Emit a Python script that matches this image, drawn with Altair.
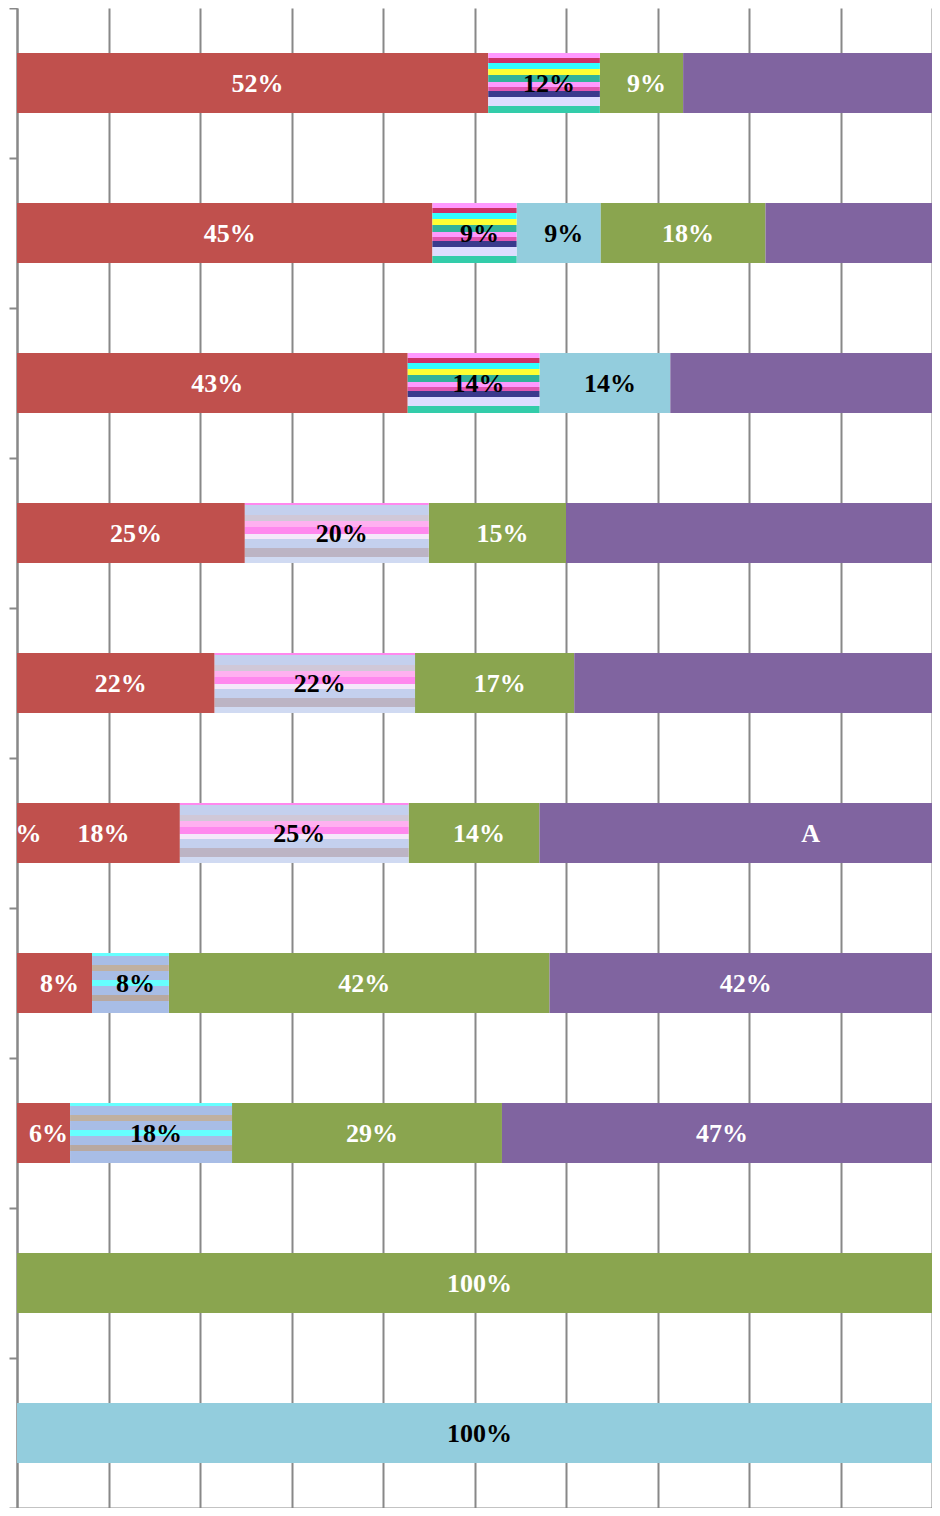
import altair as alt
import pandas as pd

# ---- data (percent of row) ----
rows = ["1", "2", "3", "4", "5", "6", "7", "8", "9", "10"]
series = ["s0", "red", "pattern", "light", "green", "purple"]

s0_vals      = [0, 0, 0, 0, 0, 0, 0, 0, 0, 0]
red_vals     = [51.5, 45.4, 42.7, 24.9, 21.6, 17.8, 8.2, 5.8, 0, 0]
pattern_vals = [12.2, 9.2, 14.4, 20.1, 21.9, 25.0, 8.4, 17.7, 0, 0]
light_vals   = [0, 9.2, 14.3, 0, 0, 0, 0, 0, 0, 100]
green_vals   = [9.1, 18.0, 0, 15.0, 17.4, 14.3, 41.6, 29.5, 100, 0]
purple_vals  = [27.2, 18.2, 28.6, 40.0, 39.1, 42.9, 41.8, 47.0, 0, 0]

s0_labels      = ["", "", "", "", "", "0%", "", "", "", ""]
red_labels     = ["52%", "45%", "43%", "25%", "22%", "18%", "8%", "6%", "", ""]
pattern_labels = ["12%", "9%", "14%", "20%", "22%", "25%", "8%", "18%", "", ""]
light_labels   = ["", "9%", "14%", "", "", "", "", "", "", "100%"]
green_labels   = ["9%", "18%", "", "15%", "17%", "14%", "42%", "29%", "100%", ""]
purple_labels  = ["", "", "", "", "", "A", "42%", "47%", "", ""]

# label placed away from its segment centre (row, series) -> percent position
label_override = {("6", "purple"): 86.2}

pattern_group = ["g1", "g1", "g1", "g2", "g2", "g2", "g3", "g3", "", ""]

colors = {"s0": "#C0504D", "red": "#C0504D", "pattern": "#C8C8EE",
          "light": "#93CDDD", "green": "#8AA54F", "purple": "#8064A0"}
text_colors = {"s0": "white", "red": "white", "pattern": "black",
               "light": "black", "green": "white", "purple": "white"}

vals = {"s0": s0_vals, "red": red_vals, "pattern": pattern_vals,
        "light": light_vals, "green": green_vals, "purple": purple_vals}
labs = {"s0": s0_labels, "red": red_labels, "pattern": pattern_labels,
        "light": light_labels, "green": green_labels, "purple": purple_labels}

recs = []
for i, r in enumerate(rows):
    cum = 0.0
    for s in series:
        v = vals[s][i]
        start, end = cum, cum + v
        cum = end
        lx = label_override.get((r, s), (start + end) / 2)
        recs.append(dict(row=r, series=s, start=start, end=end, lx=lx,
                         label=labs[s][i], tcolor=text_colors[s],
                         pgroup=pattern_group[i]))
df = pd.DataFrame(recs)

# ---- stripe fills imitating the textured series ----
def grad(stops):
    st = []
    for a, b, c in stops:
        st.append(alt.GradientStop(offset=a, color=c))
        st.append(alt.GradientStop(offset=b, color=c))
    return alt.Gradient(gradient="linear", x1=0, y1=0, x2=0, y2=1, stops=st)

g1 = grad([(0, 0.08, "#FF99FF"), (0.08, 0.17, "#CC3366"), (0.17, 0.27, "#33FFFF"),
           (0.27, 0.37, "#FFFF33"), (0.37, 0.48, "#33B39A"), (0.48, 0.56, "#FF99FF"),
           (0.56, 0.63, "#E055B0"), (0.63, 0.73, "#3A3A8C"), (0.73, 0.88, "#DDDDFF"),
           (0.88, 1.0, "#33CCAA")])
g2 = grad([(0, 0.03, "#FF88EE"), (0.03, 0.2, "#C4D0EE"), (0.2, 0.3, "#D0C8D8"),
           (0.3, 0.4, "#FFB0F0"), (0.4, 0.52, "#FF88EE"), (0.52, 0.6, "#F4E8FA"),
           (0.6, 0.75, "#C4D0EE"), (0.75, 0.9, "#BCB4C4"), (0.9, 1.0, "#D0DAF2")])
g3 = grad([(0, 0.05, "#66FFFF"), (0.05, 0.2, "#A8BDE6"), (0.2, 0.3, "#C0B0A0"),
           (0.3, 0.45, "#A8BDE6"), (0.45, 0.55, "#66FFFF"), (0.55, 0.7, "#A8BDE6"),
           (0.7, 0.8, "#B8A8A0"), (0.8, 1.0, "#A8BDE6")])
grads = {"g1": g1, "g2": g2, "g3": g3}

GRID = "#888888"
X = alt.X("start:Q", scale=alt.Scale(domain=[0, 100], nice=False, zero=True),
          axis=alt.Axis(values=list(range(0, 101, 10)), labels=False, title=None,
                        grid=True, gridColor=GRID, gridWidth=2,
                        domainColor=GRID, domainWidth=2,
                        tickColor=GRID, tickWidth=2, tickSize=3))
Y = alt.Y("row:N", sort=rows,
          scale=alt.Scale(paddingInner=0, paddingOuter=0),
          axis=alt.Axis(labels=False, title=None, grid=False, ticks=True,
                        tickBand="extent", tickSize=8, tickColor=GRID,
                        tickWidth=2, domainColor=GRID, domainWidth=2))

BAR_H = alt.RelativeBandSize(0.4)
base = alt.Chart(df)

solid = base.transform_filter(
    (alt.datum.series != "pattern") & (alt.datum.end > alt.datum.start)
).mark_bar(height=BAR_H).encode(
    x=X, x2="end:Q", y=Y,
    color=alt.Color("series:N",
                    scale=alt.Scale(domain=series, range=[colors[s] for s in series]),
                    legend=None),
)

layers = [solid]
for g in ["g1", "g2", "g3"]:
    layers.append(
        base.transform_filter(
            (alt.datum.series == "pattern") & (alt.datum.pgroup == g)
            & (alt.datum.end > alt.datum.start)
        ).mark_bar(color=grads[g], height=BAR_H).encode(x=X, x2="end:Q", y=Y)
    )

text = base.transform_filter(alt.datum.label != "").mark_text(
    font="Liberation Serif", fontWeight="bold", fontSize=26,
    align="center", baseline="middle", dx=5, dy=1, clip=True
).encode(
    x=alt.X("lx:Q", scale=alt.Scale(domain=[0, 100], nice=False)),
    y=Y,
    text="label:N",
    color=alt.Color("tcolor:N", scale=None),
)
layers.append(text)

chart = alt.layer(*layers).properties(
    width=915, height=1500,
    autosize=alt.AutoSizeParams(type="none"),
    padding={"left": 9, "top": 0, "right": 0, "bottom": 0},
).configure_view(strokeWidth=0)

chart.save("out.html", embed_options={"renderer": "svg", "actions": False})
